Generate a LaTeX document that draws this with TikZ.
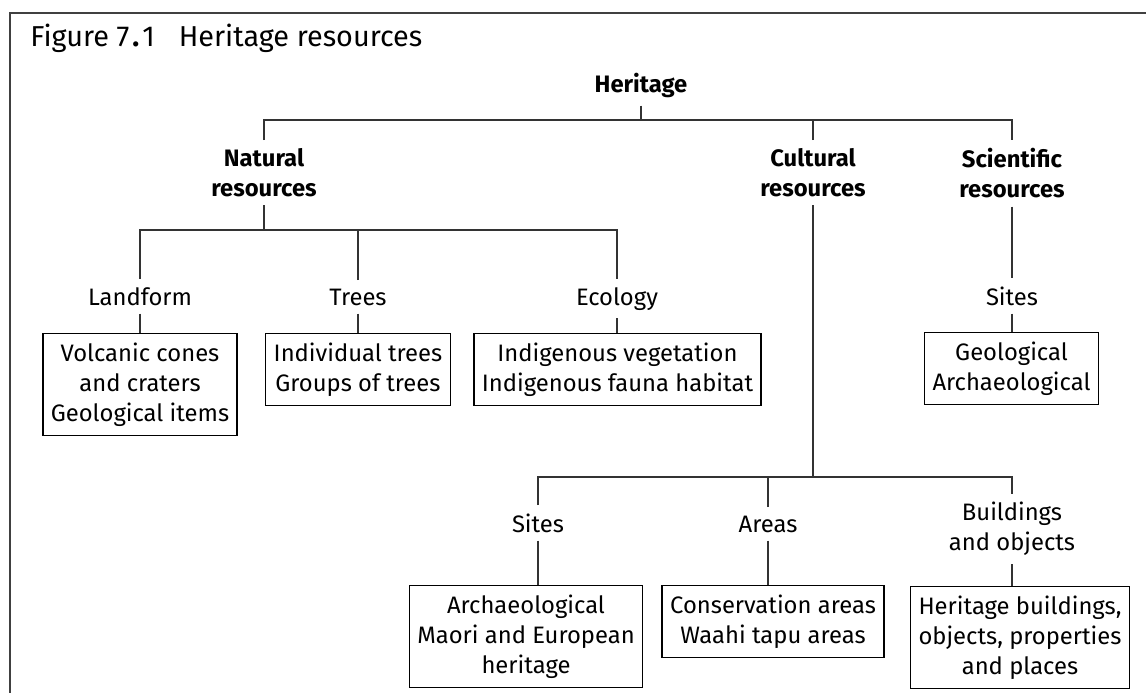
\documentclass[tikz,border=0pt]{standalone}
\usepackage{fontspec}
\setmainfont{Fira Sans}
\usepackage{tikz}

\tikzset{
	headtxt/.style={align=center,inner sep=4pt,font=\fontsize{11.9}{15}\selectfont\bfseries},
	subtxt/.style={align=center,inner sep=4pt,font=\fontsize{11.9}{15}\selectfont},
	leafbox/.style={draw,line width=0.7pt,align=center,inner xsep=4pt,inner ysep=4.5pt,font=\fontsize{11.9}{15}\selectfont},
	link/.style={line width=0.6pt,black!80}
}

\begin{document}
\begin{tikzpicture}[x=0.5pt,y=-0.5pt]
	\useasboundingbox (0,0) rectangle (1146,693);
	%FRAME
	\draw[line width=1.3pt,black!75] (1146,13) -- (10,13) -- (10,693);
	\node[anchor=base west,inner sep=0pt,font=\fontsize{14.4}{16}\selectfont] (title) at (30,46) {Figure 7\kern1.5pt{\bfseries .}\kern1.5pt1\hspace{12pt}Heritage resources};

	%TOP LEVEL
	\node[headtxt,anchor=base] (herit) at (641,92) {Heritage};
	\node[headtxt,anchor=north] (nat) at (264,140) {Natural\\resources};
	\node[headtxt,anchor=north] (cult) at (813,140) {Cultural\\resources};
	\node[headtxt,anchor=north] (sci) at (1012,140) {Scientific\\resources};

	\coordinate (hb) at (641,120);
	\draw[link] (herit) -- (hb);
	\draw[link] (nat) |- (hb) -| (sci);
	\draw[link] (cult) -- (cult |- hb);

	%NATURAL
	\node[subtxt,anchor=base] (landf) at (140,305) {Landform};
	\node[subtxt,anchor=base] (trees) at (358,305) {Trees};
	\node[subtxt,anchor=base] (ecol) at (617,305) {Ecology};
	\node[leafbox,anchor=north] (landbox) at (140,333) {Volcanic cones\\and craters\\Geological items};
	\node[leafbox,anchor=north] (treebox) at (358,333) {Individual trees\\Groups of trees};
	\node[leafbox,anchor=north] (ecobox) at (617.5,333) {Indigenous vegetation\\Indigenous fauna habitat};

	\coordinate (nb) at (264,230);
	\draw[link] (nat) -- (nb);
	\draw[link] (landf) |- (nb) -| (ecol);
	\draw[link] (trees) -- (trees |- nb);
	\draw[link] (landf) -- (landbox);
	\draw[link] (trees) -- (treebox);
	\draw[link] (ecol) -- (ecol |- ecobox.north);

	%SCIENTIFIC
	\node[subtxt,anchor=base] (scisites) at (1012,305) {Sites};
	\node[leafbox,anchor=north] (scibox) at (1011.5,332) {Geological\\Archaeological};
	\draw[link] (sci) -- (scisites);
	\draw[link] (scisites) -- (scisites |- scibox.north);

	%CULTURAL
	\node[subtxt,anchor=base] (csites) at (538,532) {Sites};
	\node[subtxt,anchor=base] (areas) at (768,532) {Areas};
	\node[subtxt,anchor=north] (build) at (1012,494) {Buildings\\and objects};
	\node[leafbox,anchor=north] (sitebox) at (526,585) {Archaeological\\Maori and European\\heritage};
	\node[leafbox,anchor=north] (areabox) at (773,585) {Conservation areas\\Waahi tapu areas};
	\node[leafbox,anchor=north] (buildbox) at (1020,586) {Heritage buildings,\\objects, properties\\and places};

	\coordinate (cb) at (813,477);
	\draw[link] (cult) -- (cb);
	\draw[link] (csites) |- (cb) -| (build);
	\draw[link] (areas) -- (areas |- cb);
	\draw[link] (csites) -- (csites |- sitebox.north);
	\draw[link] (areas) -- (areas |- areabox.north);
	\draw[link] (build) -- (build |- buildbox.north);
\end{tikzpicture}
\end{document}
